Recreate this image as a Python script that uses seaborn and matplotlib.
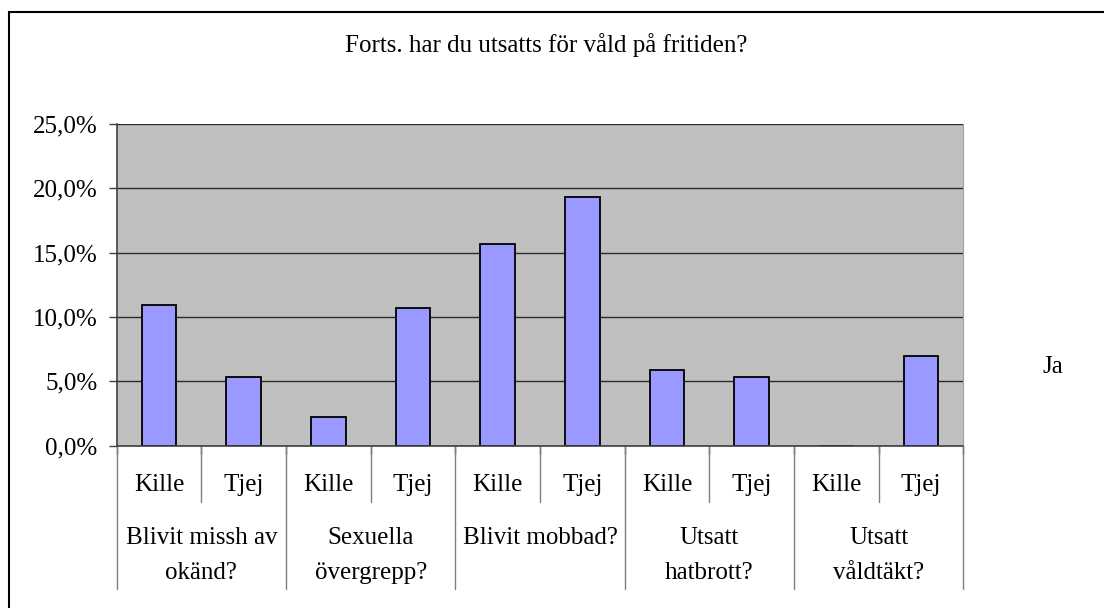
import numpy as np
import pandas as pd
import matplotlib.pyplot as plt
import matplotlib.transforms as mtransforms
from matplotlib.patches import Rectangle
from matplotlib.ticker import FuncFormatter
import seaborn as sns

# data (percent answering "Ja")
groups = ["Blivit missh av\nokänd?", "Sexuella\növergrepp?", "Blivit mobbad?",
          "Utsatt\nhatbrott?", "Utsatt\nvåldtäkt?"]
sexes = ["Kille", "Tjej"]
ja_pct = [10.9, 5.3, 2.2, 10.7, 15.7, 19.3, 5.9, 5.3, 0.0, 7.0]
yticks = [0, 5, 10, 15, 20, 25]
title = "Forts. har du utsatts för våld på fritiden?"
legend_label = "Ja"

df = pd.DataFrame({
    "grupp": np.repeat(groups, len(sexes)),
    "kon": sexes * len(groups),
    "ja": ja_pct,
})
df["slot"] = df["grupp"] + " " + df["kon"]

sns.set_style("white")
plt.rcParams["font.family"] = ["Liberation Serif", "DejaVu Serif"]
plt.rcParams["text.color"] = "black"
plt.rcParams["ytick.labelcolor"] = "black"
FS = 18

fig = plt.figure(figsize=(11.04, 6.08), dpi=100)
ax = fig.add_axes([116.7 / 1104, 1 - 445.7 / 608, (963.3 - 116.7) / 1104, (445.7 - 124) / 608])

sns.barplot(data=df, x="slot", y="ja", order=list(df["slot"]), color="#9999FF",
            saturation=1, edgecolor="black", linewidth=1.3, width=0.41,
            label=legend_label, ax=ax)

ax.set_facecolor("#C0C0C0")
ax.set_xlim(-0.5, len(df) - 0.5)
ax.set_ylim(0, 25)
ax.set_yticks(yticks)
ax.yaxis.set_major_formatter(FuncFormatter(lambda v, p: f"{v:.1f}%".replace(".", ",")))
ax.yaxis.grid(True, color="#2a2a2a", lw=1)
ax.set_axisbelow(True)
ax.set_xticks(np.arange(-0.5, len(df), 1))
ax.set_xticklabels([])
ax.set_xlabel("")
ax.set_ylabel("")
ax.tick_params(axis="y", left=True, length=6, width=1, color="#404040", pad=8,
               labelsize=FS, labelcolor="black")
ax.tick_params(axis="x", bottom=True, length=6, width=1, color="#404040")
for side in ["left", "bottom"]:
    ax.spines[side].set_color("#404040")
    ax.spines[side].set_linewidth(1.2)
ax.spines["top"].set_visible(False)
ax.spines["right"].set_color("#a0a0a0")

# two-level category axis
trans = mtransforms.blended_transform_factory(ax.transData, ax.transAxes)
for i, kon in enumerate(df["kon"]):
    ax.text(i, -0.122, kon, ha="center", va="center", fontsize=FS, transform=trans)
for g, name in enumerate(groups):
    for j, line in enumerate(name.split("\n")):
        ax.text(2 * g + 0.5, [-0.287, -0.396][j], line, ha="center", va="center",
                fontsize=FS, transform=trans)
for i in range(len(df) + 1):
    y_end = -0.446 if i % 2 == 0 else -0.175
    ax.plot([i - 0.5, i - 0.5], [0, y_end], transform=trans, clip_on=False,
            color="#808080", lw=1)

leg = ax.legend(handlelength=0, handletextpad=0, frameon=False, fontsize=FS,
                loc="center", bbox_to_anchor=(1053 / 1104, 1 - 367 / 608),
                bbox_transform=fig.transFigure)
for h in leg.legend_handles:
    h.set_visible(False)
for t in leg.get_texts():
    t.set_color("black")

fig.text(546 / 1104, 1 - 45 / 608, title, ha="center", va="center", fontsize=FS)

# chart border
fig.add_artist(Rectangle((8.5 / 1104, -0.1), 1.2, 1 - 12 / 608 + 0.1,
                         transform=fig.transFigure, fill=False, ec="black", lw=1.5))

fig.savefig("out.png", dpi=100)
